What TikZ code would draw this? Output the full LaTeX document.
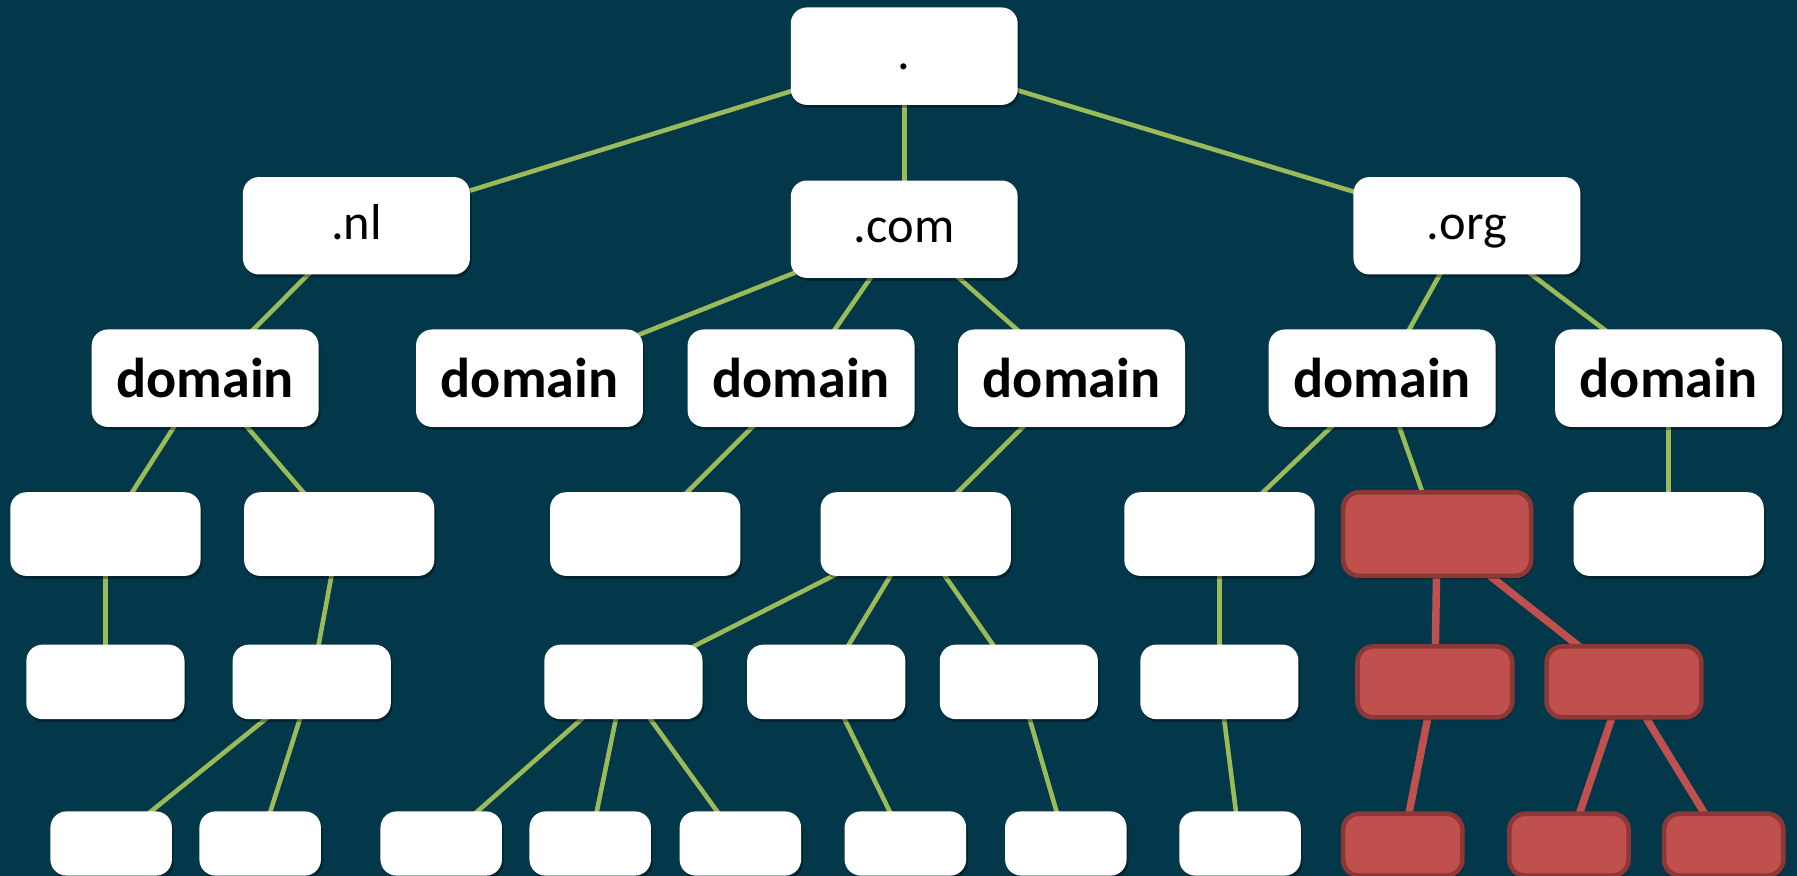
\documentclass[tikz,border=0pt]{standalone}
\usepackage{fontspec}
\setmainfont{Carlito}
\usetikzlibrary{shadows}
\definecolor{bgc}{HTML}{03384A}
\definecolor{edgegreen}{HTML}{9BBB59}
\definecolor{hired}{HTML}{C0504D}
\definecolor{hiredark}{HTML}{8C3836}
\pgfdeclarelayer{back}
\pgfdeclarelayer{edges}
\pgfsetlayers{back,edges,main}
\tikzset{
  box/.style={fill=white, rounded corners=14pt, inner sep=0pt,
    drop shadow={shadow xshift=1.5pt, shadow yshift=-2.5pt, opacity=0.35, fill=black}},
  tld/.style={box, minimum width=198pt, minimum height=85pt,
    font=\fontsize{44}{50}\selectfont, text height=30pt, text depth=6pt},
  dom/.style={box, minimum width=198pt, minimum height=85pt,
    font=\fontsize{49}{56}\selectfont\bfseries},
  lvlc/.style={box, minimum width=166pt, minimum height=73pt},
  lvld/.style={box, minimum width=138pt, minimum height=65pt},
  lvle/.style={box, minimum width=106pt, minimum height=56pt},
  hot/.style={fill=hired, draw=hiredark, line width=4pt},
  link/.style={draw=edgegreen, line width=4pt},
  hotlink/.style={draw=hired, line width=6.5pt},
}
\begin{document}
\begin{tikzpicture}[x=1pt,y=-1pt]
\useasboundingbox (0,0) rectangle (1568,764);
\begin{pgfonlayer}{back}
  \fill[bgc] (0,0) rectangle (1568,764);
\end{pgfonlayer}

% top levels
\node[tld] (root) at (789,49) {.};
\node[tld] (nl) at (311,197) {.nl};
\node[tld] (com) at (789,200) {.com};
\node[tld] (org) at (1280,197) {.org};

% domains
\node[dom] (d1) at (179,330) {domain};
\node[dom] (d2) at (462,330) {domain};
\node[dom] (d3) at (699,330) {domain};
\node[dom] (d4) at (935,330) {domain};
\node[dom] (d5) at (1206,330) {domain};
\node[dom] (d6) at (1456,330) {domain};

% level 3
\node[lvlc] (a1) at (92,466) {};
\node[lvlc] (a2) at (296,466) {};
\node[lvlc] (a3) at (563,466) {};
\node[lvlc] (a4) at (799,466) {};
\node[lvlc] (a5) at (1064,466) {};
\node[lvlc,hot,minimum width=164pt,minimum height=73pt] (a6) at (1254,466) {};
\node[lvlc] (a7) at (1456,466) {};

% level 4
\node[lvld] (b1) at (92,595) {};
\node[lvld] (b2) at (272,595) {};
\node[lvld] (b3) at (544,595) {};
\node[lvld] (b4) at (721,595) {};
\node[lvld] (b5) at (889,595) {};
\node[lvld] (b6) at (1064,595) {};
\node[lvld,hot,minimum width=135pt,minimum height=62pt] (b7) at (1252,595) {};
\node[lvld,hot,minimum width=135pt,minimum height=62pt] (b8) at (1417,595) {};

% level 5
\node[lvle] (c1) at (97,736) {};
\node[lvle] (c2) at (227,736) {};
\node[lvle] (c3) at (385,736) {};
\node[lvle] (c4) at (515,736) {};
\node[lvle] (c5) at (646,736) {};
\node[lvle] (c6) at (790,736) {};
\node[lvle] (c7) at (930,736) {};
\node[lvle] (c8) at (1082,736) {};
\node[lvle,hot,minimum width=104pt,minimum height=54pt] (c9) at (1224,737) {};
\node[lvle,hot,minimum width=104pt,minimum height=54pt] (c10) at (1369,737) {};
\node[lvle,hot,minimum width=104pt,minimum height=54pt] (c11) at (1504,737) {};

\begin{pgfonlayer}{edges}
  \draw[link] (root.center) -- (nl.center);
  \draw[link] (root.center) -- (com.center);
  \draw[link] (root.center) -- (org.center);
  \draw[link] (nl.center) -- (d1.center);
  \draw[link] (com.center) -- (d2.center);
  \draw[link] (com.center) -- (d3.center);
  \draw[link] (com.center) -- (d4.center);
  \draw[link] (org.center) -- (d5.center);
  \draw[link] (org.center) -- (d6.center);
  \draw[link] (d1.center) -- (a1.center);
  \draw[link] (d1.center) -- (a2.center);
  \draw[link] (d3.center) -- (a3.center);
  \draw[link] (d4.center) -- (a4.center);
  \draw[link] (d5.center) -- (a5.center);
  \draw[link] (d5.center) -- (a6.center);
  \draw[link] (d6.center) -- (a7.center);
  \draw[link] (a1.center) -- (b1.center);
  \draw[link] (a2.center) -- (b2.center);
  \draw[link] (a4.center) -- (b3.center);
  \draw[link] (a4.center) -- (b4.center);
  \draw[link] (a4.center) -- (b5.center);
  \draw[link] (a5.center) -- (b6.center);
  \draw[hotlink] (a6.center) -- (b7.center);
  \draw[hotlink] (a6.center) -- (b8.center);
  \draw[link] (b2.center) -- (c1.center);
  \draw[link] (b2.center) -- (c2.center);
  \draw[link] (b3.center) -- (c3.center);
  \draw[link] (b3.center) -- (c4.center);
  \draw[link] (b3.center) -- (c5.center);
  \draw[link] (b4.center) -- (c6.center);
  \draw[link] (b5.center) -- (c7.center);
  \draw[link] (b6.center) -- (c8.center);
  \draw[hotlink] (b7.center) -- (c9.center);
  \draw[hotlink] (b8.center) -- (c10.center);
  \draw[hotlink] (b8.center) -- (c11.center);
\end{pgfonlayer}
\end{tikzpicture}
\end{document}
